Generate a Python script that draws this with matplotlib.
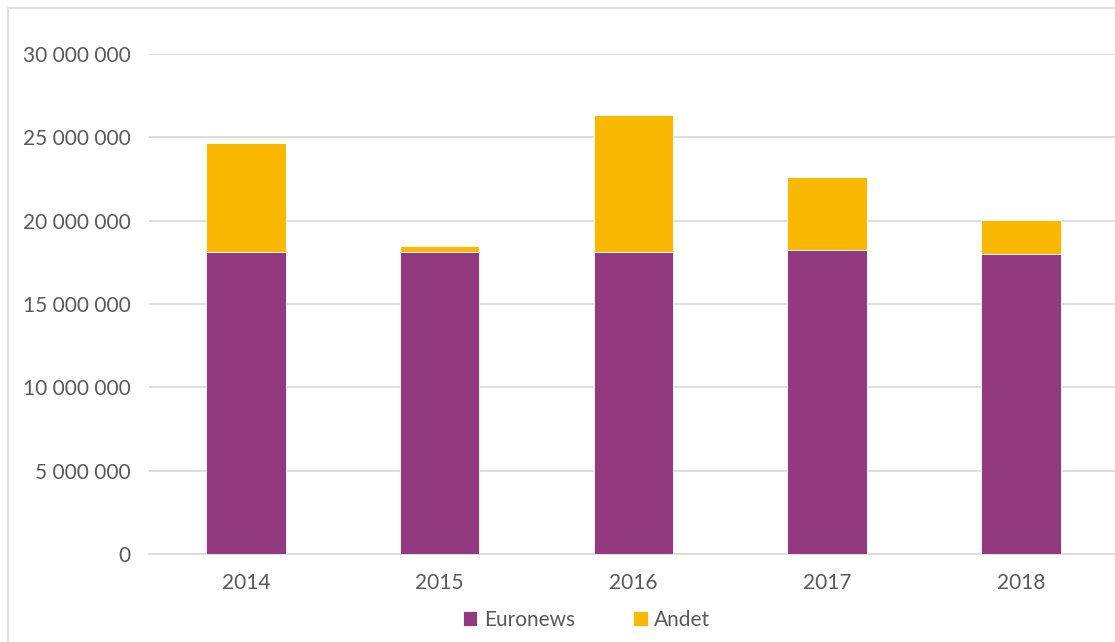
import matplotlib.pyplot as plt
from matplotlib.patches import Rectangle
import numpy as np

years = ["2014", "2015", "2016", "2017", "2018"]
euronews = [18130000, 18130000, 18130000, 18250000, 18010000]
andet = [6500000, 360000, 8180000, 4370000, 2030000]

purple = "#93397F"
yellow = "#FAB800"
grey = "#595959"

plt.rcParams['font.family'] = ['Lato', 'DejaVu Sans']

fig = plt.figure(figsize=(11.15, 6.42), dpi=100)
ax = fig.add_axes([0.1336, 0.137, 0.869, 0.779])

# kantlinje rundt om diagrammet
fig.patches.append(Rectangle((8 / 1115, -0.1), 1.2, 1.1 - 8 / 642,
                             transform=fig.transFigure, fill=False,
                             edgecolor="#D9D9D9", linewidth=1.2))

x = np.arange(len(years))
ax.bar(x, euronews, width=0.41, color=purple, edgecolor="white", linewidth=0.6,
       label="Euronews", zorder=3)
ax.bar(x, andet, width=0.41, bottom=euronews, color=yellow, edgecolor="white",
       linewidth=0.6, label="Andet", zorder=3)

ax.set_xlim(-0.5, 4.5)
ax.set_ylim(0, 30000000)
ax.set_yticks(range(0, 30000001, 5000000))
ax.set_yticklabels([f"{v:,}".replace(",", " ") for v in range(0, 30000001, 5000000)])
ax.set_xticks(x)
ax.set_xticklabels(years)
ax.tick_params(length=0, labelsize=15, colors=grey)
ax.tick_params(axis="y", pad=13)
ax.tick_params(axis="x", pad=14)
ax.grid(axis="y", color="#D9D9D9", linewidth=1.2, zorder=0)
for s in ["top", "right", "left"]:
    ax.spines[s].set_visible(False)
ax.spines["bottom"].set_color("#D9D9D9")
ax.spines["bottom"].set_linewidth(1.2)

leg = ax.legend(loc="center", bbox_to_anchor=(0.4515, -0.132), ncol=2, frameon=False,
                fontsize=15, handlelength=0.7, handleheight=0.7,
                handletextpad=0.3, columnspacing=2.8)
for t in leg.get_texts():
    t.set_color(grey)

fig.savefig("out.png", dpi=100)
